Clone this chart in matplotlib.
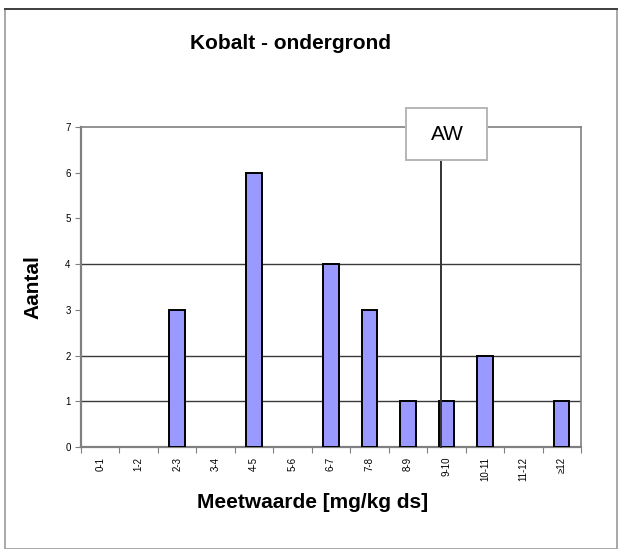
import numpy as np
import matplotlib
matplotlib.use("Agg")
import matplotlib.pyplot as plt
from matplotlib.patches import Rectangle

plt.rcParams['font.family'] = ['Liberation Sans', 'DejaVu Sans']

# --- data ---
klassen = ["0-1", "1-2", "2-3", "3-4", "4-5", "5-6", "6-7", "7-8",
           "8-9", "9-10", "10-11", "11-12", "\u226512"]
aantal = [0, 0, 3, 0, 6, 0, 4, 3, 1, 1, 2, 0, 1]
aw_positie = 8.85          # achtergrondwaarde, in klasse-eenheden
rasterlijnen = [1, 2, 4]

W, H = 619, 549
fig = plt.figure(figsize=(W / 100, H / 100), dpi=100)
ax = fig.add_axes([81 / W, 1 - 447 / H, 500 / W, 320 / H])

x = np.arange(len(klassen))
hoogte = np.array(aantal)
gevuld = hoogte > 0
ax.bar(x[gevuld], hoogte[gevuld], width=0.4, color="#9999FF",
       edgecolor="black", linewidth=1.4, zorder=3)

for y in rasterlijnen:
    ax.axhline(y, color="#3a3a3a", linewidth=1.0, zorder=1)

ax.set_xlim(-0.5, len(klassen) - 0.5)
ax.set_ylim(0, 7)
ax.set_yticks(range(0, 8))
ax.tick_params(axis="y", labelsize=7, length=4, width=0.8, color="#808080")
ax.set_xticks(x)
ax.set_xticklabels(klassen, rotation=90, fontsize=7)
ax.tick_params(axis="x", length=0, pad=7)
ax.set_xticks(np.arange(-0.5, len(klassen) + 0.5, 1), minor=True)
ax.tick_params(axis="x", which="minor", length=4, width=0.8, color="#808080")

for side in ["left", "bottom", "top", "right"]:
    ax.spines[side].set_color("#808080")
    ax.spines[side].set_linewidth(1.6 if side in ("left", "bottom") else 1.2)

# AW lijn met label-kader
ax.plot([aw_positie, aw_positie], [0, 6.28], color="#333333", linewidth=1.4,
        zorder=4, clip_on=False)
fig.add_artist(Rectangle((406 / W, 1 - 160 / H), 81 / W, 52 / H,
                         transform=fig.transFigure, facecolor="white",
                         edgecolor="#b5b5b5", linewidth=1.4, zorder=5))
fig.text(447 / W, 1 - 135 / H, "AW", fontsize=15, ha="center", va="center",
         zorder=6)

fig.text(290 / W, 1 - 44 / H, "Kobalt - ondergrond", fontsize=15,
         fontweight="bold", ha="center", va="center")
fig.text(33 / W, 1 - 287 / H, "Aantal", fontsize=15, fontweight="bold",
         rotation=90, ha="center", va="center")
fig.text(313 / W, 1 - 502 / H, "Meetwaarde [mg/kg ds]", fontsize=15,
         fontweight="bold", ha="center", va="center")

# rand om de figuur
fig.add_artist(Rectangle((5 / W, 0), 612 / W, 1 - 9 / H,
                         transform=fig.transFigure, fill=False,
                         edgecolor="#9a9a9a", linewidth=1.2))
fig.add_artist(plt.Line2D([5 / W, 617 / W], [1 - 9 / H, 1 - 9 / H],
                          transform=fig.transFigure, color="#404040",
                          linewidth=1.4))

fig.savefig("out.png", dpi=100)
